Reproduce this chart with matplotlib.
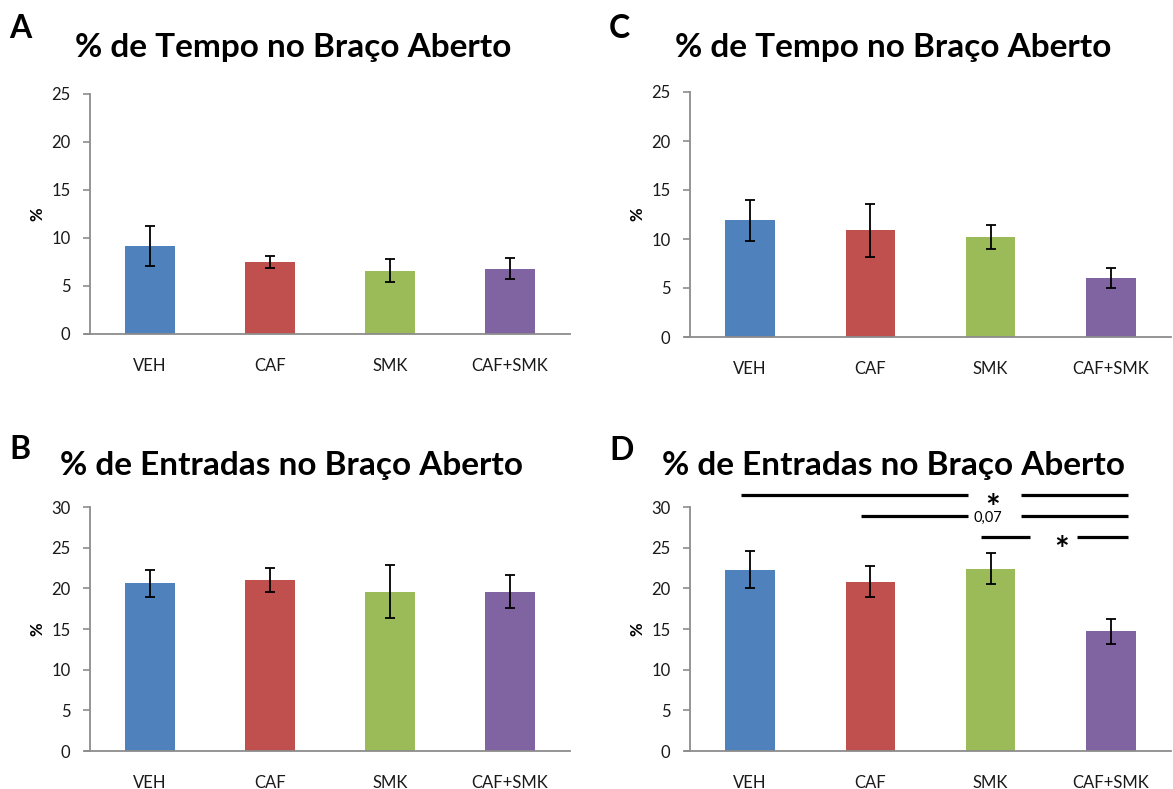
import numpy as np
import matplotlib
matplotlib.use("Agg")
import matplotlib.pyplot as plt

plt.rcParams['font.family'] = ['Lato', 'DejaVu Sans']

grupos = ["VEH", "CAF", "SMK", "CAF+SMK"]
cores = ["#4F81BD", "#C0504D", "#9BBB59", "#8064A2"]

# tempo no braco aberto (%)
tempoA = [9.2, 7.5, 6.6, 6.8]
erroTempoA = [2.1, 0.6, 1.2, 1.1]
tempoC = [11.9, 10.9, 10.2, 6.0]
erroTempoC = [2.1, 2.7, 1.2, 1.0]

# entradas no braco aberto (%)
entradasB = [20.6, 21.0, 19.6, 19.6]
erroEntradasB = [1.7, 1.5, 3.3, 2.0]
entradasD = [22.3, 20.8, 22.4, 14.7]
erroEntradasD = [2.3, 1.9, 1.9, 1.5]

W, H = 1173, 789
fig = plt.figure(figsize=(W / 100, H / 100), dpi=100)


def eixo(x0, x1, ytop, ybot):
    # caixa em pixels -> fracao da figura
    return fig.add_axes([x0 / W, 1 - ybot / H, (x1 - x0) / W, (ybot - ytop) / H])


def grafico(ax, valores, erros, ymax):
    x = np.arange(len(grupos))
    ax.bar(x, valores, width=0.41, color=cores, zorder=2)
    ax.errorbar(x, valores, yerr=erros, fmt='none', ecolor='black',
                elinewidth=1.3, capsize=3.5, capthick=1.3, zorder=3)
    ax.set_xlim(-0.5, 3.5)
    ax.set_ylim(0, ymax)
    ax.set_yticks(np.arange(0, ymax + 1, 5))
    ax.set_xticks(x)
    ax.set_xticklabels(grupos)
    for s in ['top', 'right']:
        ax.spines[s].set_visible(False)
    for s in ['left', 'bottom']:
        ax.spines[s].set_color('#8c8c8c')
        ax.spines[s].set_linewidth(1.3)
    ax.spines['bottom'].set_bounds(-0.54, 3.5)
    ax.tick_params(axis='y', length=5, width=1.2, color='#8c8c8c',
                   labelsize=12, labelcolor='#1a1a1a', pad=9)
    ax.tick_params(axis='x', length=0, labelsize=12, labelcolor='#1a1a1a', pad=17)
    ax.set_ylabel('%', fontsize=12, fontweight='bold', labelpad=4)


axA = eixo(90, 570, 94, 334)
axC = eixo(690, 1171, 92, 337)
axB = eixo(90, 570, 507, 751)
axD = eixo(690, 1171, 507, 751)

grafico(axA, tempoA, erroTempoA, 25)
grafico(axC, tempoC, erroTempoC, 25)
grafico(axB, entradasB, erroEntradasB, 30)
grafico(axD, entradasD, erroEntradasD, 30)

# titulos e letras dos paineis
titulos = [("A", 293, 48, "% de Tempo no Braço Aberto"),
           ("C", 893, 47, "% de Tempo no Braço Aberto"),
           ("B", 292, 466, "% de Entradas no Braço Aberto"),
           ("D", 893, 466, "% de Entradas no Braço Aberto")]
letras = {"A": (9, 28), "C": (609, 28), "B": (9, 449), "D": (609, 450)}
for letra, cx, cy, txt in titulos:
    fig.text(cx / W, 1 - cy / H, txt, ha='center', va='center',
             fontsize=24, fontweight='bold')
    lx, ly = letras[letra]
    fig.text(lx / W, 1 - ly / H, letra, ha='left', va='center',
             fontsize=23, fontweight='bold')

# barras de significancia no painel D
sig = [
    (31.5, [(-0.08, 1.81), (2.25, 3.14)], 2.02, '*'),
    (28.9, [(0.92, 1.81), (2.25, 3.14)], 1.98, '0,07'),
    (26.3, [(1.92, 2.33), (2.72, 3.14)], 2.59, '*'),
]
for y, trechos, xt, rotulo in sig:
    for a, b in trechos:
        axD.plot([a, b], [y, y], color='black', lw=2.3, clip_on=False,
                 solid_capstyle='butt')
    if rotulo == '*':
        axD.text(xt, y + 0.2, rotulo, ha='center', va='top',
                 fontsize=25, fontweight='bold', clip_on=False)
    else:
        axD.text(xt, y - 0.2, rotulo, ha='center', va='center',
                 fontsize=10.5, clip_on=False)

fig.savefig("out.png", dpi=100)
